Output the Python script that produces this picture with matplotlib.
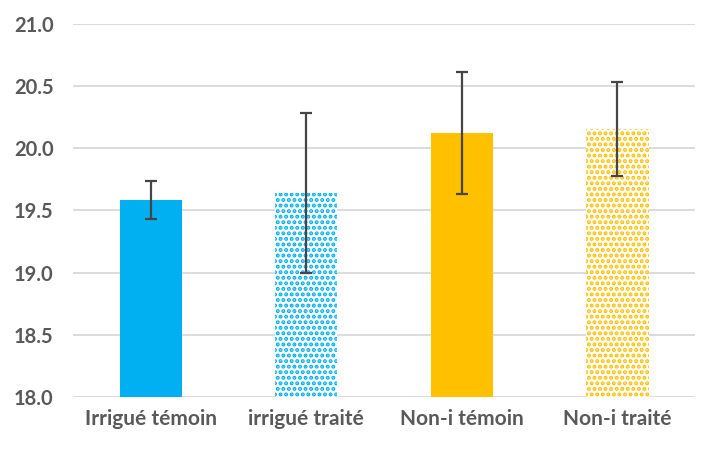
import numpy as np
import matplotlib
matplotlib.use("Agg")
import matplotlib.pyplot as plt

matplotlib.rcParams.update({
    "font.family": ["Lato", "DejaVu Sans"],
    "font.weight": "bold",
    "hatch.linewidth": 2.0,
})

categories = ["Irrigué témoin", "irrigué traité", "Non-i témoin", "Non-i traité"]
values = [19.585, 19.64, 20.12, 20.155]
errors = [0.155, 0.645, 0.49, 0.375]
colors = ["#00B0F0", "#00B0F0", "#FFC000", "#FFC000"]
patterned = [False, True, False, True]
TEXT = "#595959"

fig = plt.figure(figsize=(7.16, 4.5), dpi=100)
ax = fig.add_axes([0.102, 0.118, 0.869, 0.829])

x = np.arange(len(categories))
for xi, v, c, p in zip(x, values, colors, patterned):
    if p:
        ax.bar(xi, v - 18, bottom=18, width=0.4, facecolor="white",
               edgecolor=c, hatch="...", linewidth=0, zorder=2)
    else:
        ax.bar(xi, v - 18, bottom=18, width=0.4, color=c, linewidth=0, zorder=2)

ax.errorbar(x, values, yerr=errors, fmt="none", ecolor="#454545",
            elinewidth=1.6, capsize=4.5, capthick=1.6, zorder=3)

ax.set_ylim(18, 21)
ax.set_xlim(-0.5, 3.5)
ax.set_yticks(np.arange(18, 21.01, 0.5))
ax.set_yticklabels([f"{t:.1f}" for t in np.arange(18, 21.01, 0.5)])
ax.set_xticks(x)
ax.set_xticklabels(categories)
ax.yaxis.grid(True, color="#D9D9D9", lw=1.3, zorder=0)
ax.set_axisbelow(True)
for s in ax.spines.values():
    s.set_visible(False)
ax.tick_params(axis="y", length=0, labelsize=14.5, colors=TEXT, pad=14)
ax.tick_params(axis="x", length=0, labelsize=15, colors=TEXT, pad=9)

fig.savefig("out.png", dpi=100)
